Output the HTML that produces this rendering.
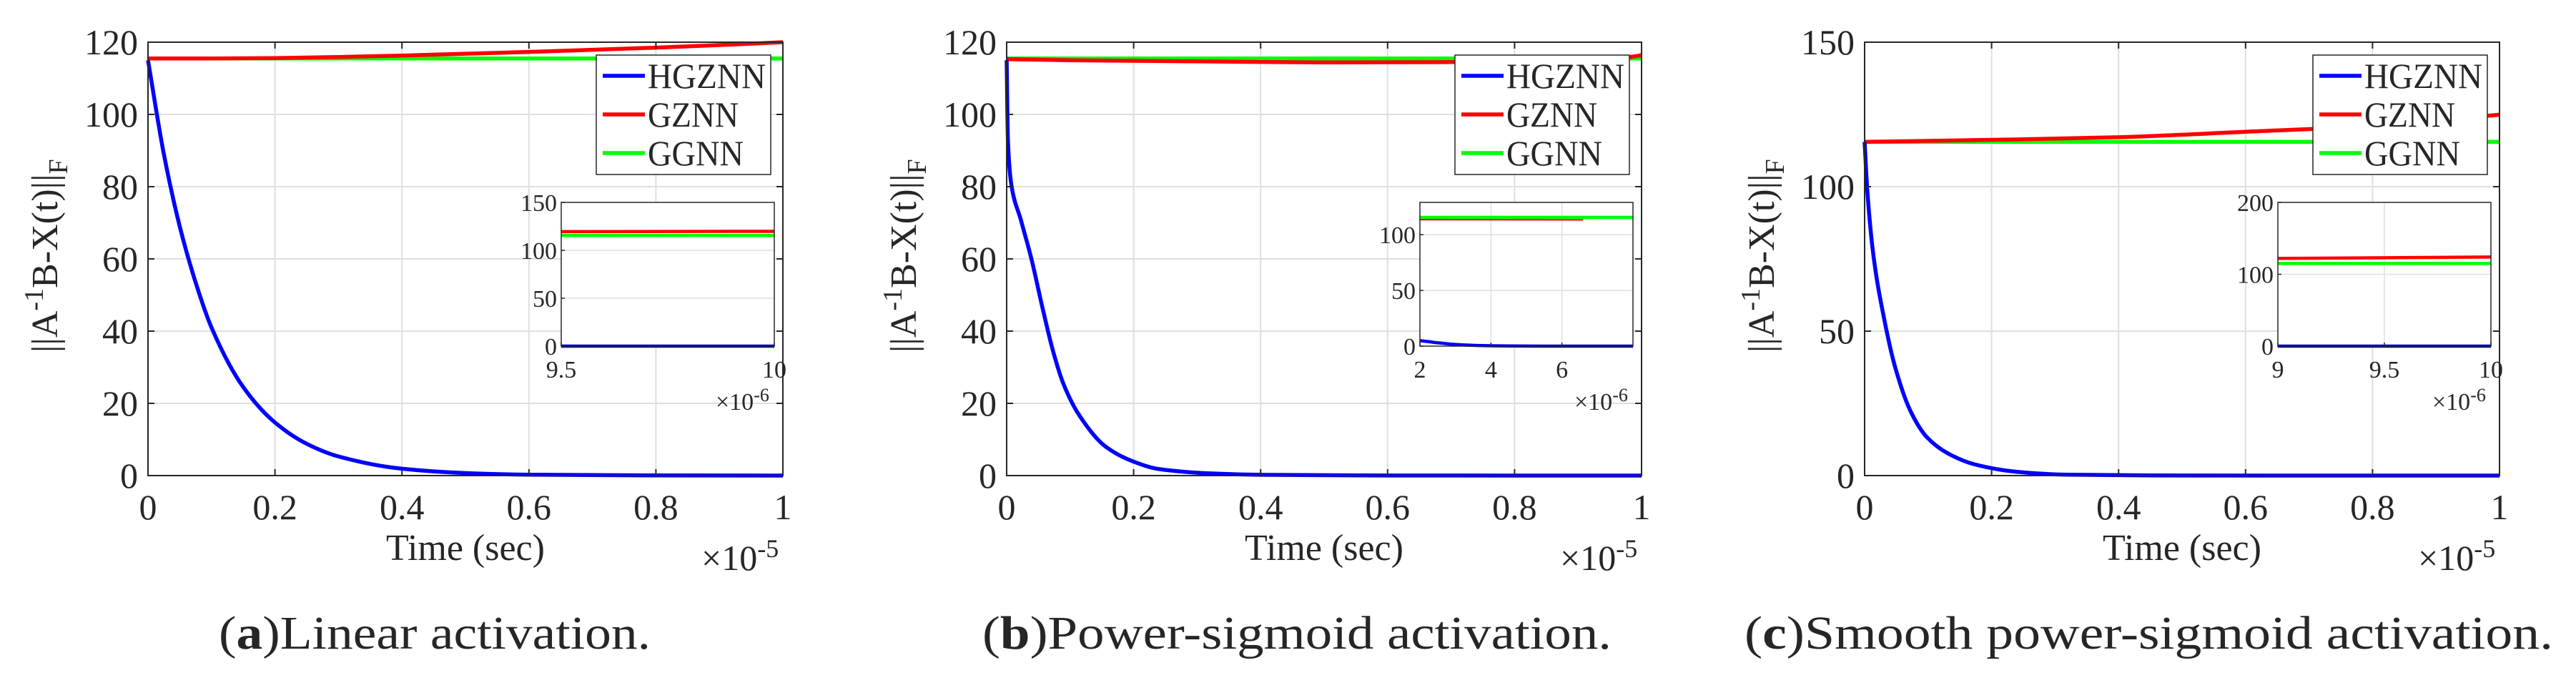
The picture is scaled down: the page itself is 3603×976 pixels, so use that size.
<!DOCTYPE html>
<html><head><meta charset="utf-8">
<style>
html,body{margin:0;padding:0;background:#fff;}
svg{display:block;}
text{font-family:"Liberation Serif",serif;fill:#262626;}
</style></head>
<body>
<svg id="fig" width="3603" height="976" viewBox="0 0 3603 976" xmlns="http://www.w3.org/2000/svg">
<rect x="0" y="0" width="3603" height="976" fill="#fff"/>
</svg>
<script>
// ---------- data ----------
const seriesNames = ["HGZNN","GZNN","GGNN"];
const seriesColors = ["#0000ff","#ff0000","#00ff00"];

// Panel (a) Linear activation
const aYTicks = [0,20,40,60,80,100,120];
const aHgT = [0,0.025,0.05,0.075,0.1,0.15,0.2,0.25,0.3,0.4,0.5,0.6,0.8,1];
const aHgV = [115,89,69,53.5,41,24.5,14.7,8.8,5.3,1.9,0.7,0.25,0.05,0];
const aGzT = [0,0.1,0.2,0.3,0.4,0.5,0.6,0.7,0.8,0.9,1];
const aGzV = [115.5,115.5,115.6,115.9,116.3,116.8,117.3,117.9,118.5,119.2,120];
const aGgT = [0,1];
const aGgV = [115.5,115.5];
const aInXTicks = [9.5,10];
const aInYTicks = [0,50,100,150];
const aInHgV = [0,0];
const aInGzV = [119.5,119.8];
const aInGgV = [115.5,115.5];

// Panel (b) Power-sigmoid activation
const bYTicks = [0,20,40,60,80,100,120];
const bHgT = [0,0.002,0.0075,0.0225,0.039,0.056,0.073,0.089,0.114,0.156,0.198,0.24,0.323,0.41,0.6,1];
const bHgV = [115,92.8,80.4,70.7,60,46.8,34.5,25.6,16.8,8,4,1.8,0.6,0.2,0.02,0];
const bGzT = [0,0.1,0.3,0.5,0.7,0.9,0.97,1];
const bGzV = [115.3,115.0,114.7,114.4,114.5,114.8,115.6,116.4];
const bGgT = [0,1];
const bGgV = [115.5,115.5];
const bInXTicks = [2,4,6];
const bInYTicks = [0,50,100];
const bInHgT = [2,2.5,3,3.5,4,5,6,8];
const bInHgV = [5,3,1.5,0.7,0.3,0.1,0,0];
const bInGzT = [2,6.6];
const bInGzV = [113.5,113.3];
const bInGgT = [2,8];
const bInGgV = [115.5,115.5];

// Panel (c) Smooth power-sigmoid activation
const cYTicks = [0,50,100,150];
const cHgT = [0,0.004,0.014,0.031,0.048,0.073,0.098,0.131,0.173,0.24,0.32,0.45,0.7,1];
const cHgV = [115.5,99.4,76,54,37.6,22,13.3,7.7,3.9,1.3,0.3,0.05,0,0];
const cGzT = [0,0.2,0.4,0.6,0.8,1];
const cGzV = [115.5,116.2,117.1,119,121,124.9];
const cGgT = [0,1];
const cGgV = [115.5,115.5];
const cInXTicks = [9,9.5,10];
const cInYTicks = [0,100,200];
const cInHgV = [0,0];
const cInGzV = [122,124];
const cInGgV = [115,115];

const xTicks = [0,0.2,0.4,0.6,0.8,1];
const xTickLabels = ["0","0.2","0.4","0.6","0.8","1"];

// ---------- drawing ----------
const NS = "http://www.w3.org/2000/svg";
const svg = document.getElementById("fig");
function mk(tag, attrs, parent){
  const e = document.createElementNS(NS, tag);
  for (const k in attrs) e.setAttribute(k, attrs[k]);
  (parent||svg).appendChild(e);
  return e;
}
// monotone cubic path through mapped points (rendering smoothing only)
function pathD(ts, vs, sx, sy){
  const X = ts.map(sx), Y = vs.map(sy), n = X.length;
  if (n < 3){
    let d = "";
    for (let i=0;i<n;i++) d += (i?"L":"M") + X[i].toFixed(2) + "," + Y[i].toFixed(2);
    return d;
  }
  const dx = [], m = [], tan = [];
  for (let i=0;i<n-1;i++){ dx[i] = X[i+1]-X[i]; m[i] = (Y[i+1]-Y[i])/(dx[i]||1e-9); }
  tan[0] = m[0]; tan[n-1] = m[n-2];
  for (let i=1;i<n-1;i++){
    if (m[i-1]*m[i] <= 0) tan[i] = 0;
    else { const w1 = 2*dx[i]+dx[i-1], w2 = dx[i]+2*dx[i-1]; tan[i] = (w1+w2)/(w1/m[i-1]+w2/m[i]); }
  }
  let d = "M" + X[0].toFixed(2) + "," + Y[0].toFixed(2);
  for (let i=0;i<n-1;i++){
    const h = dx[i]/3;
    d += "C" + (X[i]+h).toFixed(2) + "," + (Y[i]+tan[i]*h).toFixed(2) + " " +
         (X[i+1]-h).toFixed(2) + "," + (Y[i+1]-tan[i+1]*h).toFixed(2) + " " +
         X[i+1].toFixed(2) + "," + Y[i+1].toFixed(2);
  }
  return d;
}

const TOP = 59, BOT = 665, W = 888;

function drawPanel(p){
  const g = mk("g", {});
  
  
  const x0 = p.x0, x1 = p.x0 + W;
  const sx = t => x0 + t * W;
  const sy = v => BOT - v / p.ymax * (BOT - TOP);

  xTicks.forEach((t,i) => {
    if (i>0 && i<xTicks.length-1){
      const l = mk("line",{x1:sx(t),x2:sx(t),y1:TOP,y2:BOT,stroke:"#dfdfdf","stroke-width":2},g);
      
      
    }
  });
  p.yTicks.forEach((v,i) => {
    if (i>0 && i<p.yTicks.length-1){
      const l = mk("line",{x1:x0,x2:x1,y1:sy(v),y2:sy(v),stroke:"#dfdfdf","stroke-width":2},g);
      
      
    }
  });
  const ser = [[p.hgT,p.hgV],[p.gzT,p.gzV],[p.ggT,p.ggV]];
  [2,1,0].forEach(k => {
    const s = mk("path",{d:pathD(ser[k][0],ser[k][1],sx,sy),fill:"none",stroke:seriesColors[k],"stroke-width":5.5,"stroke-linejoin":"round"},g);
    
    
  });
  const box = mk("rect",{x:x0,y:TOP,width:W,height:BOT-TOP,fill:"none",stroke:"#262626","stroke-width":2},g);
  
  
  xTicks.forEach((t,i) => {
    mk("line",{x1:sx(t),x2:sx(t),y1:BOT,y2:BOT-9,stroke:"#262626","stroke-width":2},g);
    mk("line",{x1:sx(t),x2:sx(t),y1:TOP,y2:TOP+9,stroke:"#262626","stroke-width":2},g);
    const tx = mk("text",{x:sx(t),y:726,"text-anchor":"middle","font-size":50},g);
    tx.textContent = xTickLabels[i];
    
    
  });
  p.yTicks.forEach(v => {
    mk("line",{x1:x0,x2:x0+9,y1:sy(v),y2:sy(v),stroke:"#262626","stroke-width":2},g);
    mk("line",{x1:x1,x2:x1-9,y1:sy(v),y2:sy(v),stroke:"#262626","stroke-width":2},g);
    const tx = mk("text",{x:x0-14,y:sy(v)+17,"text-anchor":"end","font-size":50},g);
    tx.textContent = String(v);
    
    
  });
  const xt = mk("text",{x:x0+W/2,y:783,"text-anchor":"middle","font-size":52},g);
  xt.textContent = "Time (sec)";
  
  
  const xe = mk("text",{x:x1-114,y:797,"font-size":50},g);
  xe.innerHTML = '×10<tspan dy="-18" font-size="36">-5</tspan>';
  
  
  const yt = mk("text",{x:0,y:0,"font-size":52,transform:"translate("+(x0-127)+",493) rotate(-90)"},g);
  yt.innerHTML = '||A<tspan dy="-20" font-size="38">-1</tspan><tspan dy="20">B-X(t)||</tspan><tspan dy="14" font-size="38">F</tspan>';
  
  

  const lg = mk("g",{},g);
  
  
  mk("rect",{x:x0+627,y:77,width:244,height:167,fill:"#fff",stroke:"#262626","stroke-width":1.5},lg);
  const legW = [165,127,134];
  seriesNames.forEach((n,k) => {
    const yy = 106 + k*54;
    const ln = mk("line",{x1:x0+636,x2:x0+695,y1:yy,y2:yy,stroke:seriesColors[k],"stroke-width":5.5},lg);
    
    
    const tx = mk("text",{x:x0+699,y:yy+17,"font-size":50,fill:"#000",textLength:legW[k],lengthAdjust:"spacingAndGlyphs"},lg);
    tx.textContent = n;
    
    
  });

  const ig = mk("g",{},g);
  
  
  const ix0 = x0 + 578, ix1 = x0 + 876, iT = 283, iB = 484;
  const isx = t => ix0 + (t - p.inXMin) / (p.inXMax - p.inXMin) * (ix1 - ix0);
  const isy = v => iB - v / p.inYMax * (iB - iT);
  mk("rect",{x:ix0,y:iT,width:ix1-ix0,height:iB-iT,fill:"#fff"},ig);
  p.inXTicks.forEach(t => {
    if (t>p.inXMin && t<p.inXMax) mk("line",{x1:isx(t),x2:isx(t),y1:iT,y2:iB,stroke:"#dfdfdf","stroke-width":1.5},ig);
  });
  p.inYTicks.forEach(v => {
    if (v>0 && v<p.inYMax) mk("line",{x1:ix0,x2:ix1,y1:isy(v),y2:isy(v),stroke:"#dfdfdf","stroke-width":1.5},ig);
  });
  const iser = [[p.inHgT,p.inHgV],[p.inGzT,p.inGzV],[p.inGgT,p.inGgV]];
  [2,1,0].forEach(k => {
    const s = mk("path",{d:pathD(iser[k][0],iser[k][1],isx,isy),fill:"none",stroke:seriesColors[k],"stroke-width":k==1&&p.id=="b"?2:4.5},ig);
    
    
  });
  mk("rect",{x:ix0,y:iT,width:ix1-ix0,height:iB-iT,fill:"none",stroke:"#262626","stroke-width":1.5},ig);
  p.inXTicks.forEach(t => {
    mk("line",{x1:isx(t),x2:isx(t),y1:iB,y2:iB-5,stroke:"#262626","stroke-width":1.5},ig);
    const tx = mk("text",{x:isx(t),y:528,"text-anchor":"middle","font-size":34},ig);
    tx.textContent = String(t);
    
    
  });
  p.inYTicks.forEach(v => {
    mk("line",{x1:ix0,x2:ix0+5,y1:isy(v),y2:isy(v),stroke:"#262626","stroke-width":1.5},ig);
    const tx = mk("text",{x:ix0-6,y:isy(v)+12,"text-anchor":"end","font-size":34},ig);
    tx.textContent = String(v);
    
    
  });
  const ie = mk("text",{x:ix1-82,y:573,"font-size":34},ig);
  ie.innerHTML = '×10<tspan dy="-12" font-size="26">-6</tspan>';
  
  

  const cap = mk("text",{x:p.capX,y:907,"font-size":66,fill:"#000",textLength:p.capW,lengthAdjust:"spacingAndGlyphs"},g);
  cap.innerHTML = '(<tspan font-weight="bold">'+p.id+'</tspan>)'+p.caption;
  
  
}

drawPanel({id:"a",x0:207,ymax:120,yTicks:aYTicks,hgT:aHgT,hgV:aHgV,gzT:aGzT,gzV:aGzV,ggT:aGgT,ggV:aGgV,
  inXMin:9.5,inXMax:10,inYMax:150,inXTicks:aInXTicks,inYTicks:aInYTicks,
  inHgT:[9.5,10],inHgV:aInHgV,inGzT:[9.5,10],inGzV:aInGzV,inGgT:[9.5,10],inGgV:aInGgV,
  capX:306,capW:604,caption:"Linear activation."});
drawPanel({id:"b",x0:1408,ymax:120,yTicks:bYTicks,hgT:bHgT,hgV:bHgV,gzT:bGzT,gzV:bGzV,ggT:bGgT,ggV:bGgV,
  inXMin:2,inXMax:8,inYMax:129,inXTicks:bInXTicks,inYTicks:bInYTicks,
  inHgT:bInHgT,inHgV:bInHgV,inGzT:bInGzT,inGzV:bInGzV,inGgT:bInGgT,inGgV:bInGgV,
  capX:1374,capW:880,caption:"Power-sigmoid activation."});
drawPanel({id:"c",x0:2608,ymax:150,yTicks:cYTicks,hgT:cHgT,hgV:cHgV,gzT:cGzT,gzV:cGzV,ggT:cGgT,ggV:cGgV,
  inXMin:9,inXMax:10,inYMax:200,inXTicks:cInXTicks,inYTicks:cInYTicks,
  inHgT:[9,10],inHgV:cInHgV,inGzT:[9,10],inGzV:cInGzV,inGgT:[9,10],inGgV:cInGgV,
  capX:2440,capW:1131,caption:"Smooth power-sigmoid activation."});
</script>
</body></html>
